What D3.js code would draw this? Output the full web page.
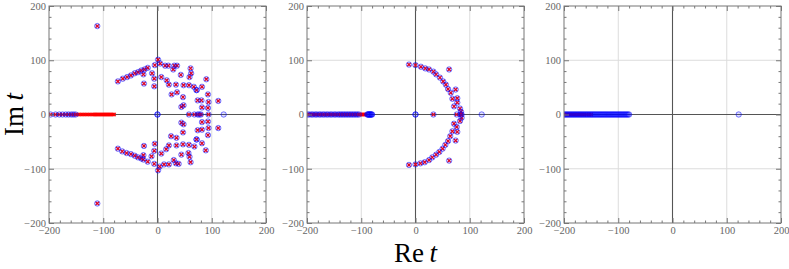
<!DOCTYPE html>
<html>
<head>
<meta charset="utf-8">
<script src="https://cdn.jsdelivr.net/npm/d3@7"></script>
<style>
  body { margin: 0; background: #fff; }
  svg { display: block; }
</style>
</head>
<body>
<svg width="789" height="269"></svg>
<script>
// roots shown as blue circle + red cross (both), blue only, red only
var p1Both = [
  [1,101],[-5,91],[5,94],[14,90],[20,90],[31,90],[36,90],[29,83],[61,85],[62,76],[59,69],
  [43,73],[7,69],[-6,66],[-6,52],[17,63],[21,55],[34,55],[48,54],[58,54],[67,51],[82,51],
  [72,45],[90,65],[26,37],[36,41],[47,32],[74,26],[81,26],[93,37],[94,23],[112,25],[82,13],
  [93,12],[44,14],[48,17],
  [58,0],[68,0],[74,0],[77,0],[80,0],[94,0],
  [1,-103],[-6,-91],[4,-96],[12,-92],[21,-92],[30,-84],[34,-90],[39,-91],[61,-88],[59,-78],
  [57,-71],[44,-74],[7,-72],[-6,-67],[-5,-54],[16,-64],[21,-57],[35,-57],[47,-55],[58,-56],
  [68,-59],[82,-53],[72,-46],[89,-66],[25,-40],[35,-43],[47,-33],[74,-29],[82,-28],[93,-38],
  [94,-25],[112,-25],[82,-14],[93,-13],[44,-15],[48,-18],
  [-73,61],[-64,66],[-56,69],[-49,72],[-42,76],[-36,78],[-30,81],[-24,83],[-18,86],[-26,74],
  [-25,57],[-10,76],
  [-73,-63],[-65,-68],[-57,-71],[-49,-73],[-42,-76],[-36,-79],[-30,-81],[-26,-83],[-18,-87],
  [-26,-75],[-25,-58],[-11,-77],
  [-111,163],[-111,-164],
  [-197,0],[-188,0],[-181,0],[-175,0],[-169,0],[-164,0],[-159,0],[-155,0],[-151,0]
];
var p1BlueOnly = [[0,0],[0,0],[122,0],[72,45],[72,-46]];
var p1RedOnly = [
  [-148,0],[-145,0],[-142,0],[-139,0],[-136,0],[-133,0],[-130,0],[-127,0],[-124,0],[-121,0],
  [-118,0],[-116,0],[-114,0],[-112,0],[-110,0],[-108,0],[-106,0],[-104,0],[-102,0],[-100,0],
  [-98,0],[-96,0],[-94,0],[-92,0],[-90,0],[-88,0],[-86,0],[-84,0],[-82,0],[-80,0]
];

var p2Both = [
  [-12,92],[0,91],[10,88],[18,85],[25,83],[33,79],[38,74],[45,68],[51,61],[56,55],[60,47],
  [65,40],[68,29],[71,15],[62,83],[74,46],[77,30],[77,22],[82,11],[84,5],
  [-12,-93],[0,-92],[9,-90],[17,-88],[25,-84],[31,-79],[38,-74],[44,-69],[50,-63],[55,-56],
  [60,-49],[64,-40],[68,-31],[71,-17],[62,-85],[74,-48],[77,-32],[76,-23],[82,-12],[85,-6],
  [33,0],[76,0],[83,0],[85,0],
  [-199,0],[-196,0],[-192,0],[-189,0],[-185,0],[-182,0],[-178,0],[-175,0],[-171,0],[-168,0],
  [-164,0],[-161,0],[-157,0],[-154,0],[-150,0],[-147,0],[-143,0],[-140,0],[-137,0],[-134,0],
  [-131,0],[-128,0],[-125,0],[-122,0],[-119,0],[-116,0],[-113,0],[-110,0],[-107,0],[-104,0]
];
var p2BlueOnly = [
  [0,0],[0,0],[122,0],
  [-89,0],[-88,0],[-87,0],[-86,0],[-85,0],[-84,0],[-83,0],[-82,0],[-81,0],[-80,0]
];
var p2RedOnly = [[-102,0],[-100,0],[-98,0],[-96,0],[-94,0],[-92,0]];

var p3BlueOnly = [
  [122,0],
  [-200,0],[-198,0],[-196,0],[-194,0],[-192,0],[-190,0],[-188,0],[-186,0],[-184,0],[-182,0],
  [-180,0],[-178,0],[-176,0],[-174,0],[-172,0],[-170,0],[-168,0],[-166,0],[-164,0],[-162,0],
  [-160,0],[-158,0],[-156,0],[-154,0],[-152,0],[-150,0],[-148,0],[-146,0],[-144,0],[-142,0],
  [-140,0],[-138,0],[-136,0],[-134,0],[-132,0],[-130,0],[-128,0],[-126,0],[-124,0],[-122,0],
  [-120,0],[-118,0],[-116,0],[-114,0],[-112,0],[-110,0],[-108,0],[-106,0],[-104,0],[-102,0],
  [-100,0],[-98,0],[-96,0],[-94,0],[-92,0],[-90,0],[-88,0],[-86,0],[-84,0],[-82,0],[-80,0]
];
var p3RedOnly = [
  [-198,0],[-195,0],[-192,0],[-189,0],[-186,0],[-183,0],[-180,0],[-177,0],[-174,0],[-171,0],
  [-168,0],[-165,0],[-162,0],[-158,0],[-154,0],[-150,0]
];

var majorTicks = [-200, -100, 0, 100, 200];
var minorTicks = [-180,-160,-140,-120,-80,-60,-40,-20,20,40,60,80,120,140,160,180];
var gridLines = [-100, 100];

(function () {
  var panels = [
    { left: 49,  blue: p1Both.concat(p1BlueOnly), red: p1Both.concat(p1RedOnly) },
    { left: 307, blue: p2Both.concat(p2BlueOnly), red: p2Both.concat(p2RedOnly) },
    { left: 564, blue: p3BlueOnly, red: p3RedOnly }
  ];

  var svg = d3.select("svg"),
      size = 217,
      plotTop = 6,
      font = "'Liberation Serif', 'Times New Roman', serif";

  var x = d3.scaleLinear().domain([-200, 200]).range([0, size]),
      y = d3.scaleLinear().domain([-200, 200]).range([size, 0]);

  var cross = "M-1.7,-1.7L1.7,1.7M-1.7,1.7L1.7,-1.7";

  panels.forEach(function (p, i) {
    var g = svg.append("g").attr("transform", "translate(" + p.left + "," + plotTop + ")");

    g.append("clipPath").attr("id", "clip" + i)
      .append("rect").attr("width", size).attr("height", size);

    // grid
    g.selectAll(".gx").data(gridLines).enter().append("line")
      .attr("x1", d => x(d)).attr("x2", d => x(d))
      .attr("y1", 0).attr("y2", size)
      .attr("stroke", "#dcdcdc").attr("stroke-width", 1);
    g.selectAll(".gy").data(gridLines).enter().append("line")
      .attr("y1", d => y(d)).attr("y2", d => y(d))
      .attr("x1", 0).attr("x2", size)
      .attr("stroke", "#dcdcdc").attr("stroke-width", 1);

    // zero axes
    g.append("line").attr("x1", x(0)).attr("x2", x(0)).attr("y1", 0).attr("y2", size)
      .attr("stroke", "#555").attr("stroke-width", 1.1);
    g.append("line").attr("y1", y(0)).attr("y2", y(0)).attr("x1", 0).attr("x2", size)
      .attr("stroke", "#555").attr("stroke-width", 1.1);

    var pts = g.append("g").attr("clip-path", "url(#clip" + i + ")");

    pts.selectAll(".r").data(p.red).enter().append("path")
      .attr("d", cross)
      .attr("transform", d => "translate(" + x(d[0]) + "," + y(d[1]) + ")")
      .attr("stroke", "#ff0000").attr("stroke-width", 1.2).attr("fill", "none");

    pts.selectAll(".b").data(p.blue).enter().append("circle")
      .attr("cx", d => x(d[0])).attr("cy", d => y(d[1]))
      .attr("r", 2.7)
      .attr("fill", "#0000ff").attr("fill-opacity", 0.12)
      .attr("stroke", "#0000ff").attr("stroke-opacity", 0.5).attr("stroke-width", 1);

    // frame ticks: major + minor on all four sides, pointing inward
    function styleAxis(sel, labels) {
      sel.select(".domain").remove();
      sel.selectAll("line").attr("stroke", "#777");
      sel.selectAll("text")
        .style("font-family", font).style("font-size", "10.5px").attr("fill", "#666");
      if (!labels) sel.selectAll("text").remove();
    }
    var axes = [
      [d3.axisBottom(x), "translate(0," + size + ")", true, 4],
      [d3.axisTop(x), "translate(0,0)", false, 3],
      [d3.axisLeft(y), "translate(0,0)", true, 3],
      [d3.axisRight(y), "translate(" + size + ",0)", false, 3]
    ];
    axes.forEach(function (a) {
      g.append("g").attr("transform", a[1])
        .call(a[0].tickValues(minorTicks).tickSize(-2.5).tickFormat(""))
        .call(s => styleAxis(s, false));
      g.append("g").attr("transform", a[1])
        .call(a[0].tickValues(majorTicks).tickSize(-5).tickPadding(a[3]).tickFormat(d3.format("d")))
        .call(s => styleAxis(s, a[2]));
    });

    g.append("rect").attr("width", size).attr("height", size)
      .attr("fill", "none").attr("stroke", "#777").attr("stroke-width", 1);
  });

  // axis titles
  var yt = svg.append("text")
    .attr("transform", "translate(23," + (plotTop + size / 2) + ") rotate(-90)")
    .attr("text-anchor", "middle")
    .style("font-family", font).style("font-size", "27px").attr("fill", "#000");
  yt.append("tspan").text("Im\u2009");
  yt.append("tspan").style("font-style", "italic").text("t");

  var xt = svg.append("text")
    .attr("x", 307 + size / 2).attr("y", 262)
    .attr("text-anchor", "middle")
    .style("font-family", font).style("font-size", "27px").attr("fill", "#000");
  xt.append("tspan").text("Re\u2009");
  xt.append("tspan").style("font-style", "italic").text("t");
})();
</script>
</body>
</html>
